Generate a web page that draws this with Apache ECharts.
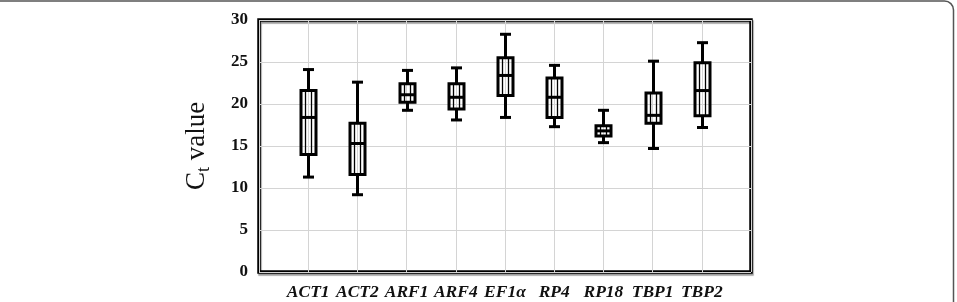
<!DOCTYPE html>
<html>
<head>
<meta charset="utf-8">
<script src="https://cdn.jsdelivr.net/npm/echarts@6/dist/echarts.min.js"></script>
<style>
  html, body { margin: 0; padding: 0; background: #fff; }
  #chart { width: 957px; height: 302px; }
</style>
</head>
<body>
<div id="chart"></div>
<script>
// genes on the x axis
const categories = ['ACT1', 'ACT2', 'ARF1', 'ARF4', 'EF1α', 'RP4', 'RP18', 'TBP1', 'TBP2'];
// Ct values
const mins    = [11.3,  9.2, 19.25, 18.1, 18.4, 17.3, 15.4, 14.7, 17.2];
const q1s     = [14.0, 11.6, 20.2,  19.4, 21.0, 18.4, 16.2, 17.7, 18.6];
const medians = [18.4, 15.3, 21.1,  20.8, 23.4, 20.8, 16.8, 18.65, 21.6];
const q3s     = [21.6, 17.7, 22.4,  22.4, 25.5, 23.1, 17.4, 21.3, 24.9];
const maxs    = [24.1, 22.6, 24.0,  24.3, 28.3, 24.6, 19.25, 25.1, 27.3];
const yTicks  = [0, 5, 10, 15, 20, 25, 30];

// empty slot at each end so boxes sit on inner grid lines
const axisCats = [''].concat(categories, ['']);
const boxData = categories.map((c, i) => [i + 1, mins[i], q1s[i], medians[i], q3s[i], maxs[i]]);

const serif = '"Liberation Serif", "DejaVu Serif", serif';

const renderBox = (params, api) => {
  const idx = api.value(0);
  const x = Math.round(api.coord([idx, 0])[0]) + 0.5;
  const yMin = api.coord([idx, api.value(1)])[1];
  const yQ1 = api.coord([idx, api.value(2)])[1];
  const yMed = api.coord([idx, api.value(3)])[1];
  const yQ3 = api.coord([idx, api.value(4)])[1];
  const yMax = api.coord([idx, api.value(5)])[1];
  const half = 7.5;
  const cap = 5.5;
  const thick = { stroke: '#000', lineWidth: 3, fill: null };
  const thin = { stroke: '#000', lineWidth: 1.3 };
  return {
    type: 'group',
    children: [
      { type: 'line', shape: { x1: x, y1: yQ3, x2: x, y2: yMax }, style: thick },
      { type: 'line', shape: { x1: x, y1: yQ1, x2: x, y2: yMin }, style: thick },
      { type: 'line', shape: { x1: x - cap, y1: yMax, x2: x + cap, y2: yMax }, style: thick },
      { type: 'line', shape: { x1: x - cap, y1: yMin, x2: x + cap, y2: yMin }, style: thick },
      { type: 'line', shape: { x1: x - 3, y1: yQ3, x2: x - 3, y2: yQ1 }, style: thin },
      { type: 'line', shape: { x1: x + 3, y1: yQ3, x2: x + 3, y2: yQ1 }, style: thin },
      { type: 'rect', shape: { x: x - half, y: yQ3, width: half * 2, height: yQ1 - yQ3 }, style: thick },
      { type: 'line', shape: { x1: x - half, y1: yMed, x2: x + half, y2: yMed }, style: thick }
    ]
  };
};

const chart = echarts.init(document.getElementById('chart'));
chart.setOption({
  animation: false,
  graphic: [{
    type: 'rect',
    shape: { x: -20, y: 1, width: 973.5, height: 330, r: 9 },
    style: { fill: null, stroke: '#555', lineWidth: 1.5 },
    silent: true
  }],
  grid: {
    left: 259, right: 206, top: 20, bottom: 30,
    show: true,
    borderColor: '#000',
    borderWidth: 3.5,
    shadowColor: 'rgba(0,0,0,0.4)',
    shadowOffsetX: 1,
    shadowOffsetY: 2,
    shadowBlur: 1
  },
  xAxis: {
    type: 'category',
    data: axisCats,
    boundaryGap: false,
    axisLine: { show: false },
    axisTick: { show: false },
    axisLabel: {
      interval: 0,
      margin: 11,
      color: '#111',
      fontFamily: serif,
      fontSize: 17.5,
      fontWeight: 'bold',
      fontStyle: 'italic'
    },
    splitLine: { show: true, lineStyle: { color: '#d4d4d4', width: 1 } }
  },
  yAxis: {
    type: 'value',
    min: yTicks[0],
    max: yTicks[yTicks.length - 1],
    interval: 5,
    name: '{a|C}{b|t}{a| value}',
    nameLocation: 'middle',
    nameGap: 46,
    nameRotate: 90,
    nameTextStyle: {
      rich: {
        a: { fontFamily: serif, fontSize: 27, color: '#111', lineHeight: 30, verticalAlign: 'top' },
        b: { fontFamily: serif, fontSize: 18, color: '#111', lineHeight: 18, padding: [15, 0, 0, 0], verticalAlign: 'bottom' }
      }
    },
    axisLine: { show: false },
    axisTick: { show: false },
    axisLabel: {
      margin: 11,
      color: '#111',
      fontFamily: serif,
      fontSize: 17,
      fontWeight: 'bold'
    },
    splitLine: { show: true, lineStyle: { color: '#d4d4d4', width: 1 } }
  },
  series: [{
    type: 'custom',
    renderItem: renderBox,
    data: boxData,
    z: 5
  }]
});
</script>
</body>
</html>
